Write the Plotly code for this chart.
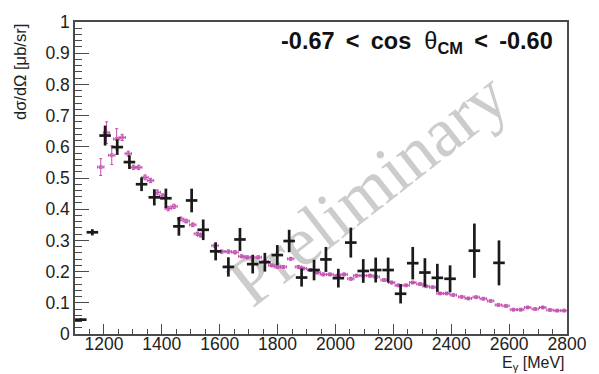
import plotly.graph_objects as go

# Black data (this measurement)
black_E = [1120, 1160, 1204, 1246, 1288, 1330, 1374, 1414, 1459, 1503, 1543, 1586,
           1630, 1670, 1714, 1756, 1799, 1840, 1883, 1926, 1967, 2010, 2053, 2096,
           2139, 2182, 2225, 2267, 2309, 2352, 2396, 2480, 2565]
black_y = [0.046, 0.326, 0.636, 0.599, 0.551, 0.480, 0.438, 0.435, 0.345, 0.428, 0.334, 0.265,
           0.215, 0.303, 0.224, 0.230, 0.253, 0.298, 0.181, 0.205, 0.239, 0.179, 0.293, 0.202,
           0.205, 0.205, 0.129, 0.227, 0.197, 0.180, 0.177, 0.267, 0.228]
black_yerr = [0.004, 0.010, 0.032, 0.025, 0.022, 0.022, 0.026, 0.031, 0.030, 0.038, 0.033, 0.029,
              0.031, 0.037, 0.030, 0.030, 0.032, 0.036, 0.029, 0.033, 0.040, 0.030, 0.048, 0.038,
              0.040, 0.040, 0.031, 0.052, 0.046, 0.045, 0.043, 0.087, 0.072]
black_xerr = [20] * len(black_E)

# Magenta data (reference measurement)
mag_E = [1189, 1209, 1227, 1244, 1263, 1284, 1302, 1320, 1342, 1361, 1384, 1403, 1422, 1442,
         1465, 1484, 1507, 1523, 1534, 1584, 1607, 1630, 1653, 1676, 1695, 1733, 1757, 1780,
         1799, 1820, 1845, 1872, 1889, 1914, 1937, 1958, 1981, 2006, 2030, 2053, 2073, 2096,
         2119, 2141, 2168, 2194, 2217, 2244, 2267, 2292, 2313, 2336, 2361, 2384, 2407, 2436,
         2459, 2486, 2511, 2536, 2563, 2589, 2615, 2640, 2664, 2690, 2716, 2741, 2766, 2790]
mag_y = [0.535, 0.645, 0.573, 0.625, 0.630, 0.578, 0.534, 0.534, 0.502, 0.492, 0.454, 0.443, 0.402, 0.409,
         0.369, 0.362, 0.350, 0.321, 0.316, 0.283, 0.264, 0.264, 0.262, 0.249, 0.246, 0.246, 0.233, 0.220,
         0.215, 0.215, 0.241, 0.215, 0.210, 0.205, 0.197, 0.191, 0.191, 0.187, 0.191, 0.177, 0.187, 0.187,
         0.187, 0.183, 0.173, 0.165, 0.156, 0.156, 0.165, 0.160, 0.153, 0.150, 0.130, 0.130, 0.125, 0.119,
         0.114, 0.118, 0.113, 0.106, 0.093, 0.090, 0.078, 0.078, 0.085, 0.080, 0.085, 0.077, 0.075, 0.075]
mag_yerr = [0.027, 0.035, 0.030, 0.033, 0.010, 0.008, 0.007, 0.007, 0.008, 0.007, 0.008, 0.006, 0.007, 0.007,
            0.006, 0.006, 0.006, 0.005, 0.005, 0.005, 0.005, 0.005, 0.005, 0.004, 0.004, 0.004, 0.004, 0.004,
            0.004, 0.004, 0.004, 0.004, 0.004, 0.004, 0.004, 0.004, 0.004, 0.004, 0.004, 0.004, 0.004, 0.004,
            0.004, 0.004, 0.004, 0.004, 0.003, 0.003, 0.003, 0.003, 0.003, 0.003, 0.003, 0.003, 0.003, 0.003,
            0.003, 0.003, 0.003, 0.003, 0.003, 0.003, 0.003, 0.003, 0.003, 0.003, 0.003, 0.003, 0.003, 0.003]
mag_xerr = [11] * len(mag_E)

x_ticks = [1200, 1400, 1600, 1800, 2000, 2200, 2400, 2600, 2800]
y_ticks = [0, 0.1, 0.2, 0.3, 0.4, 0.5, 0.6, 0.7, 0.8, 0.9, 1]
y_ticklabels = ["0", "0.1", "0.2", "0.3", "0.4", "0.5", "0.6", "0.7", "0.8", "0.9", "1"]

MAG = "#c24fb0"
BLK = "#1a1a1a"
AX = "#4a4a4a"

fig = go.Figure()
fig.add_trace(go.Scatter(
    x=mag_E, y=mag_y, mode="markers",
    marker=dict(symbol="square-open", size=3, color=MAG, line=dict(width=0.8, color=MAG)),
    error_x=dict(type="data", array=mag_xerr, color=MAG, thickness=1, width=1.5),
    error_y=dict(type="data", array=mag_yerr, color=MAG, thickness=1, width=1.5),
    showlegend=False, cliponaxis=True))
fig.add_trace(go.Scatter(
    x=black_E, y=black_y, mode="markers",
    marker=dict(size=1, color=BLK, opacity=0),
    error_x=dict(type="data", array=black_xerr, color=BLK, thickness=2.7, width=0),
    error_y=dict(type="data", array=black_yerr, color=BLK, thickness=2.7, width=0),
    showlegend=False, cliponaxis=True))

fig.update_layout(
    width=599, height=374,
    margin=dict(l=75, r=32, t=13, b=40),
    paper_bgcolor="white", plot_bgcolor="white",
    font=dict(family="Liberation Sans, Arial, sans-serif", color="#222", size=17),
    showlegend=False,
)
fig.update_xaxes(
    range=[1100, 2800], showgrid=False, zeroline=False,
    showline=True, linecolor=AX, linewidth=1.5, mirror=True,
    ticks="inside", ticklen=10, tickwidth=1.2, tickcolor=AX,
    tickvals=x_ticks, ticktext=[str(v) for v in x_ticks],
    ticklabelstandoff=-7,
    minor=dict(ticks="inside", ticklen=5, tickwidth=1.2, tickcolor=AX, dtick=50, tick0=1100, showgrid=False),
    tickfont=dict(size=17.5, color="#222"),
)
fig.update_yaxes(
    range=[0, 1], showgrid=False, zeroline=False,
    showline=True, linecolor=AX, linewidth=1.5, mirror=True,
    ticks="inside", ticklen=14, tickwidth=1.2, tickcolor=AX,
    tickvals=y_ticks, ticktext=y_ticklabels,
    minor=dict(ticks="inside", ticklen=7, tickwidth=1.2, tickcolor=AX, dtick=0.02, tick0=0, showgrid=False),
    tickfont=dict(size=17.5, color="#222"),
)

# watermark below traces
cx, cy = (363 - 75) / 492, (334 - 178) / 321
fig.add_shape(type="rect", xref="paper", yref="paper", x0=cx - 0.3, x1=cx + 0.3, y0=cy - 0.35, y1=cy + 0.35,
              line=dict(width=0), fillcolor="rgba(0,0,0,0)", layer="below",
              label=dict(text="Preliminary", textangle=-38, textposition="middle center",
                         font=dict(family="Liberation Serif, Times New Roman, serif", size=70, color="#cccccc")))

# header label
fig.add_annotation(
    xref="paper", yref="paper", x=(555 - 75) / 492, y=(334 - 51) / 321,
    xanchor="right", yanchor="bottom", showarrow=False,
    text="<b>-0.67&#8201; &lt;&#8201; cos  </b>θ<b><sub>CM</sub>&#8201; &lt;&#8201; -0.60</b>",
    font=dict(size=23.5, color="#111"))

# axis titles
fig.add_annotation(
    xref="paper", yref="paper", x=(567 - 75) / 492, y=(334 - 353) / 321,
    xanchor="right", yanchor="top", showarrow=False,
    text="E<sub>γ</sub> [MeV]", font=dict(size=16, color="#222"))
fig.add_annotation(
    xref="paper", yref="paper", x=(20 - 75) / 492, y=1.0,
    xanchor="center", yanchor="top", showarrow=False, textangle=-90,
    text="dσ/dΩ [μb/sr]", font=dict(size=16.5, color="#222"))

fig.write_html("out.html")
